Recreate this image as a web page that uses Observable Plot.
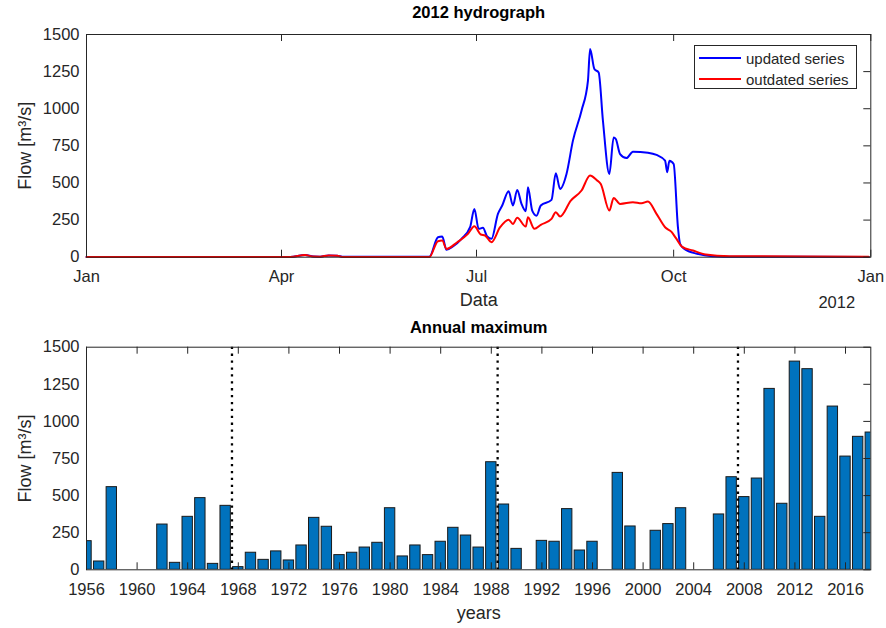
<!DOCTYPE html>
<html><head><meta charset="utf-8">
<script src="https://cdn.jsdelivr.net/npm/d3@7"></script>
<script src="https://cdn.jsdelivr.net/npm/@observablehq/plot@0.6"></script>
<style>
body{margin:0;background:#fff;font-family:"Liberation Sans",Arial,sans-serif;}
#wrap{position:relative;width:886px;height:628px;overflow:hidden;}
#top,#bottom{position:absolute;left:0;}
#top{top:0;} #bottom{top:314px;}
.legend{position:absolute;left:694px;top:45px;width:163px;height:44px;border:1px solid #262626;background:#fff;color:#262626;font-size:15px;box-sizing:border-box;}
.legend .row{position:absolute;left:4px;height:18px;display:flex;align-items:center;}
.legend .sw{width:42px;height:2px;margin-right:5px;}
</style></head>
<body><div id="wrap"><div id="top"></div><div id="bottom"></div>
<div class="legend">
<div class="row" style="top:3px"><div class="sw" style="background:#0000ff"></div><span>updated series</span></div>
<div class="row" style="top:24px"><div class="sw" style="background:#ff0000"></div><span>outdated series</span></div>
</div></div>
<script>
// ---- 2012 hydrograph ----
const updatedDates = ["2012-01-01","2012-04-05","2012-04-12","2012-04-16","2012-04-19","2012-04-23","2012-04-27","2012-04-30","2012-06-09","2012-06-13","2012-06-15","2012-06-17","2012-06-20","2012-06-24","2012-06-28","2012-06-30","2012-07-02","2012-07-04","2012-07-06","2012-07-08","2012-07-11","2012-07-13","2012-07-16","2012-07-18","2012-07-20","2012-07-22","2012-07-24","2012-07-25","2012-07-27","2012-07-29","2012-07-31","2012-08-05","2012-08-07","2012-08-09","2012-08-12","2012-08-15","2012-08-19","2012-08-22","2012-08-23","2012-08-25","2012-08-27","2012-08-29","2012-09-01","2012-09-03","2012-09-04","2012-09-06","2012-09-09","2012-09-12","2012-09-19","2012-09-23","2012-09-27","2012-09-28","2012-09-29","2012-10-01","2012-10-03","2012-10-04","2012-10-06","2012-10-12","2012-10-19","2012-10-30","2012-12-31"];
const updatedFlow = [2,2,15,4,3,12,10,3,3,134,139,50,72,124,202,325,191,198,139,124,292,348,444,348,453,359,310,471,314,280,348,386,565,460,561,785,987,1188,1402,1267,1244,919,561,807,796,695,668,711,704,689,650,572,650,628,202,90,56,23,7,3,2];
const outdatedDates = ["2012-01-01","2012-04-05","2012-04-12","2012-04-16","2012-04-19","2012-04-23","2012-04-27","2012-04-30","2012-06-09","2012-06-13","2012-06-15","2012-06-17","2012-06-22","2012-06-27","2012-06-30","2012-07-03","2012-07-05","2012-07-08","2012-07-12","2012-07-16","2012-07-18","2012-07-20","2012-07-24","2012-07-25","2012-07-28","2012-07-31","2012-08-05","2012-08-07","2012-08-09","2012-08-14","2012-08-19","2012-08-23","2012-08-26","2012-08-28","2012-09-01","2012-09-03","2012-09-06","2012-09-12","2012-09-16","2012-09-19","2012-09-23","2012-09-27","2012-09-30","2012-10-02","2012-10-05","2012-10-10","2012-10-16","2012-10-27","2012-12-01","2012-12-31"];
const outdatedFlow = [1,1,14,4,3,12,9,2,2,108,112,56,101,157,208,153,146,101,202,253,224,265,206,269,191,218,258,303,274,381,449,550,520,493,314,399,359,370,363,375,292,202,170,130,70,45,18,7,4,3];
const monthTicks = ["2012-01-01","2012-04-01","2012-07-01","2012-10-01","2013-01-01"];
const monthLabels = ["Jan","Apr","Jul","Oct","Jan"];
const flowTicks = [0,250,500,750,1000,1250,1500];

// ---- Annual maximum ----
const years = [1956,1957,1958,1959,1960,1961,1962,1963,1964,1965,1966,1967,1968,1969,1970,1971,1972,1973,1974,1975,1976,1977,1978,1979,1980,1981,1982,1983,1984,1985,1986,1987,1988,1989,1990,1991,1992,1993,1994,1995,1996,1997,1998,1999,2000,2001,2002,2003,2004,2005,2006,2007,2008,2009,2010,2011,2012,2013,2014,2015,2016,2017,2018];
const annualMax = [193,56,557,0,0,0,305,47,357,483,40,431,18,115,67,124,63,164,350,290,99,115,150,182,415,90,164,99,189,283,231,150,725,440,141,0,195,189,409,130,189,0,653,292,0,263,308,415,0,0,373,624,490,615,1219,445,1403,1352,357,1100,763,896,925];
const breakYears = [1967.5,1988.5,2007.5];
const yearTicks = [1956,1960,1964,1968,1972,1976,1980,1984,1988,1992,1996,2000,2004,2008,2012,2016];

const FONT = "Liberation Sans, Arial, sans-serif";
const INK = "#262626";
const TFS = 16.5;
const parse = d3.utcParse("%Y-%m-%d");
const upd = updatedDates.map((d,i)=>({date:parse(d), flow:updatedFlow[i]}));
const out = outdatedDates.map((d,i)=>({date:parse(d), flow:outdatedFlow[i]}));
const mTicks = monthTicks.map(parse);
const mLabel = new Map(mTicks.map((d,i)=>[+d, monthLabels[i]]));

const W = 886, H = 314;
const topM = {t:34, b:57.3, l:86, r:15.7};
const topPH = H - topM.t - topM.b, topPW = W - topM.l - topM.r;
const TK = 7;

const topPlot = Plot.plot({
  width: W, height: H,
  marginTop: topM.t, marginBottom: topM.b, marginLeft: topM.l, marginRight: topM.r,
  style: {fontFamily: FONT, fontSize: "16px", color: INK, background: "#fff"},
  x: {type: "utc", domain: [parse("2012-01-01"), parse("2013-01-01")]},
  y: {domain: [0,1500]},
  marks: [
    Plot.line(upd, {x:"date", y:"flow", stroke:"#0000ff", strokeWidth:2, curve:"monotone-x"}),
    Plot.line(out, {x:"date", y:"flow", stroke:"#ff0000", strokeWidth:2, curve:"monotone-x"}),
    Plot.frame({stroke: INK, strokeWidth: 1}),
    Plot.tickX(mTicks, {x: d=>d, insetTop: topPH - TK, stroke: INK}),
    Plot.tickX(mTicks, {x: d=>d, insetBottom: topPH - TK, stroke: INK}),
    Plot.tickY(flowTicks, {y: d=>d, insetLeft: topPW - TK, stroke: INK}),
    Plot.axisX(mTicks, {anchor:"bottom", tickSize:0, tickPadding:13, label:null, tickFormat: d=>mLabel.get(+d), fontSize:TFS}),
    Plot.axisY(flowTicks, {anchor:"left", tickSize:0, tickPadding:7, label:null, tickFormat: d=>String(d), fontSize:TFS}),
    Plot.text(["2012 hydrograph"], {frameAnchor:"top", dy:-22, fontWeight:"bold", fontSize:16.5, fill:"#000", lineAnchor:"middle"}),
    Plot.text(["Data"], {frameAnchor:"bottom", dy:43, fontSize:18, lineAnchor:"middle"}),
    Plot.text(["2012"], {frameAnchor:"bottom-right", dx:-34, dy:46, fontSize:TFS, textAnchor:"middle", lineAnchor:"middle"}),
    Plot.text(["Flow [m³/s]"], {frameAnchor:"left", dx:-61, rotate:-90, fontSize:18, textAnchor:"middle", lineAnchor:"middle"})
  ]
});
document.getElementById("top").append(topPlot);

const bars = years.map((y,i)=>({year:y, flow:annualMax[i]})).filter(d=>d.flow>0);
const botM = {t:32.7, b:58.7, l:86, r:15.7};
const botPH = H - botM.t - botM.b, botPW = W - botM.l - botM.r;
const bottomPlot = Plot.plot({
  width: W, height: H,
  marginTop: botM.t, marginBottom: botM.b, marginLeft: botM.l, marginRight: botM.r,
  style: {fontFamily: FONT, fontSize: "16px", color: INK, background: "#fff"},
  x: {domain: [1956, 2018]},
  y: {domain: [0,1500]},
  marks: [
    Plot.rect(bars, {x1: d=>d.year-0.41, x2: d=>d.year+0.41, y1: 0, y2: "flow", fill:"#0072bd", stroke:"#1a1a1a", strokeWidth:1, clip:true}),
    Plot.ruleX(breakYears, {stroke:"#000", strokeWidth:2.3, strokeDasharray:"2.3,4.6"}),
    Plot.frame({stroke: INK, strokeWidth: 1}),
    Plot.tickX(yearTicks, {x: d=>d, insetTop: botPH - TK, stroke: INK}),
    Plot.tickX(yearTicks, {x: d=>d, insetBottom: botPH - TK, stroke: INK}),
    Plot.tickY(flowTicks, {y: d=>d, insetLeft: botPW - TK, stroke: INK}),
    Plot.axisX(yearTicks, {anchor:"bottom", tickSize:0, tickPadding:13, label:null, tickFormat: d=>String(d), fontSize:TFS}),
    Plot.axisY(flowTicks, {anchor:"left", tickSize:0, tickPadding:7, label:null, tickFormat: d=>String(d), fontSize:TFS}),
    Plot.text(["Annual maximum"], {frameAnchor:"top", dy:-19.7, fontWeight:"bold", fontSize:16.5, fill:"#000", lineAnchor:"middle"}),
    Plot.text(["years"], {frameAnchor:"bottom", dy:43, fontSize:18, lineAnchor:"middle"}),
    Plot.text(["Flow [m³/s]"], {frameAnchor:"left", dx:-61, rotate:-90, fontSize:18, textAnchor:"middle", lineAnchor:"middle"})
  ]
});
document.getElementById("bottom").append(bottomPlot);
</script></body></html>
